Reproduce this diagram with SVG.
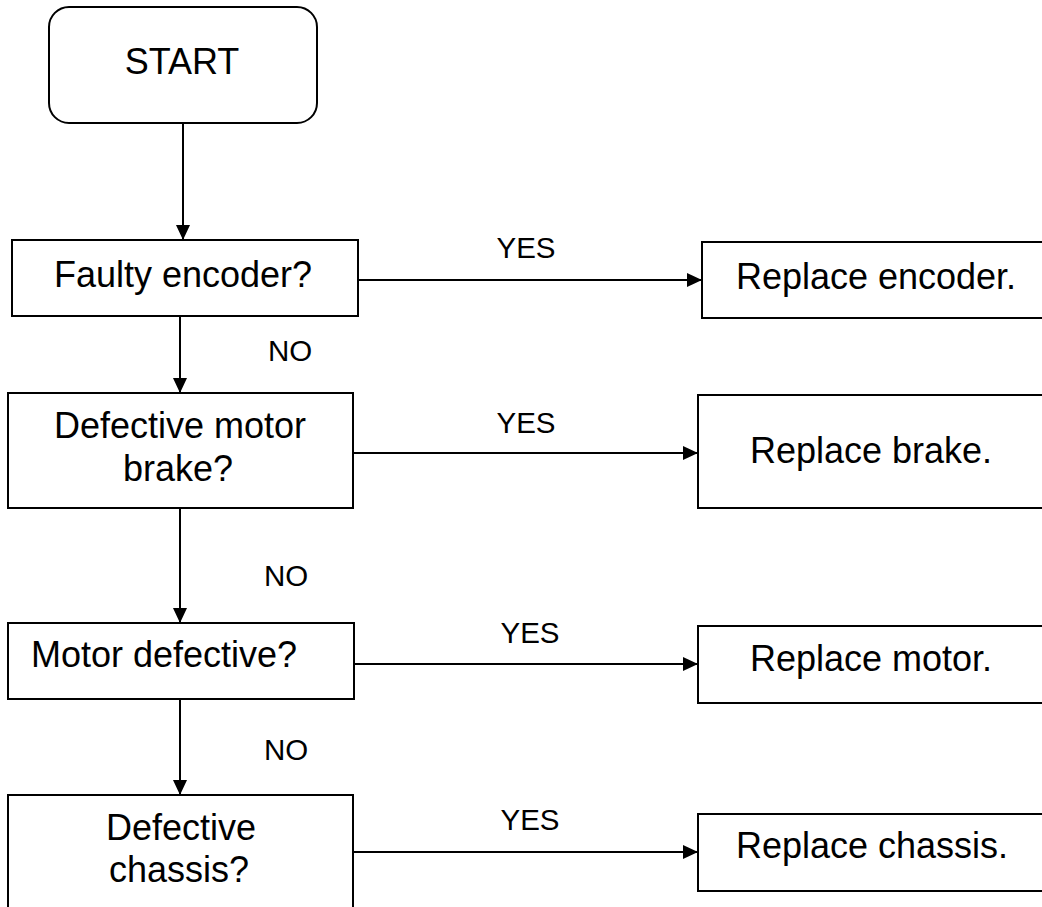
<svg xmlns="http://www.w3.org/2000/svg" width="1042" height="907" viewBox="0 0 1042 907">
<defs>
<marker id="arr" viewBox="0 0 15 14" refX="15" refY="7" markerWidth="15" markerHeight="14" markerUnits="userSpaceOnUse" orient="auto">
<path d="M0,0 L15,7 L0,14 Z" fill="#000"/>
</marker>
<style>
.box{fill:#fff;stroke:#000;stroke-width:2}
.t{font-family:"Liberation Sans",Arial,sans-serif;font-size:36px;fill:#000;text-anchor:middle}
.l{font-family:"Liberation Sans",Arial,sans-serif;font-size:29.5px;fill:#000;text-anchor:middle}
.c{stroke:#000;stroke-width:2;fill:none;marker-end:url(#arr)}
</style>
</defs>
<rect width="1042" height="907" fill="#fff"/>
<g id="connectors">
<line class="c" x1="183" y1="123" x2="183" y2="240"/>
<line class="c" x1="180" y1="316" x2="180" y2="393"/>
<line class="c" x1="180" y1="508" x2="180" y2="623"/>
<line class="c" x1="180" y1="699" x2="180" y2="795"/>
<line class="c" x1="358" y1="280" x2="702" y2="280"/>
<line class="c" x1="353" y1="453" x2="698" y2="453"/>
<line class="c" x1="354" y1="664" x2="698" y2="664"/>
<line class="c" x1="353" y1="852" x2="698" y2="852"/>
<text class="l" x="526" y="258">YES</text>
<text class="l" x="526" y="433">YES</text>
<text class="l" x="530" y="643">YES</text>
<text class="l" x="530" y="830">YES</text>
<text class="l" x="290" y="361">NO</text>
<text class="l" x="286" y="586">NO</text>
<text class="l" x="286" y="760">NO</text>
</g>
<g id="start">
<rect class="box" x="49" y="7" width="268" height="116" rx="20"/>
<text class="t" x="182" y="74">START</text>
</g>
<g id="faulty-encoder">
<rect class="box" x="12" y="240" width="346" height="76"/>
<text class="t" x="183" y="287">Faulty encoder?</text>
</g>
<g id="defective-brake">
<rect class="box" x="8" y="393" width="345" height="115"/>
<text class="t" x="180" y="438">Defective motor</text>
<text class="t" x="178" y="481">brake?</text>
</g>
<g id="motor-defective">
<rect class="box" x="8" y="623" width="346" height="76"/>
<text class="t" x="164" y="667">Motor defective?</text>
</g>
<g id="defective-chassis">
<rect class="box" x="8" y="795" width="345" height="130"/>
<text class="t" x="181" y="840">Defective</text>
<text class="t" x="179" y="882">chassis?</text>
</g>
<g id="replace-encoder">
<rect class="box" x="702" y="242" width="345" height="76"/>
<text class="t" x="876" y="289">Replace encoder.</text>
</g>
<g id="replace-brake">
<rect class="box" x="698" y="395" width="349" height="113"/>
<text class="t" x="871" y="463">Replace brake.</text>
</g>
<g id="replace-motor">
<rect class="box" x="698" y="626" width="349" height="77"/>
<text class="t" x="871" y="671">Replace motor.</text>
</g>
<g id="replace-chassis">
<rect class="box" x="698" y="814" width="349" height="77"/>
<text class="t" x="872" y="858">Replace chassis.</text>
</g>
</svg>
